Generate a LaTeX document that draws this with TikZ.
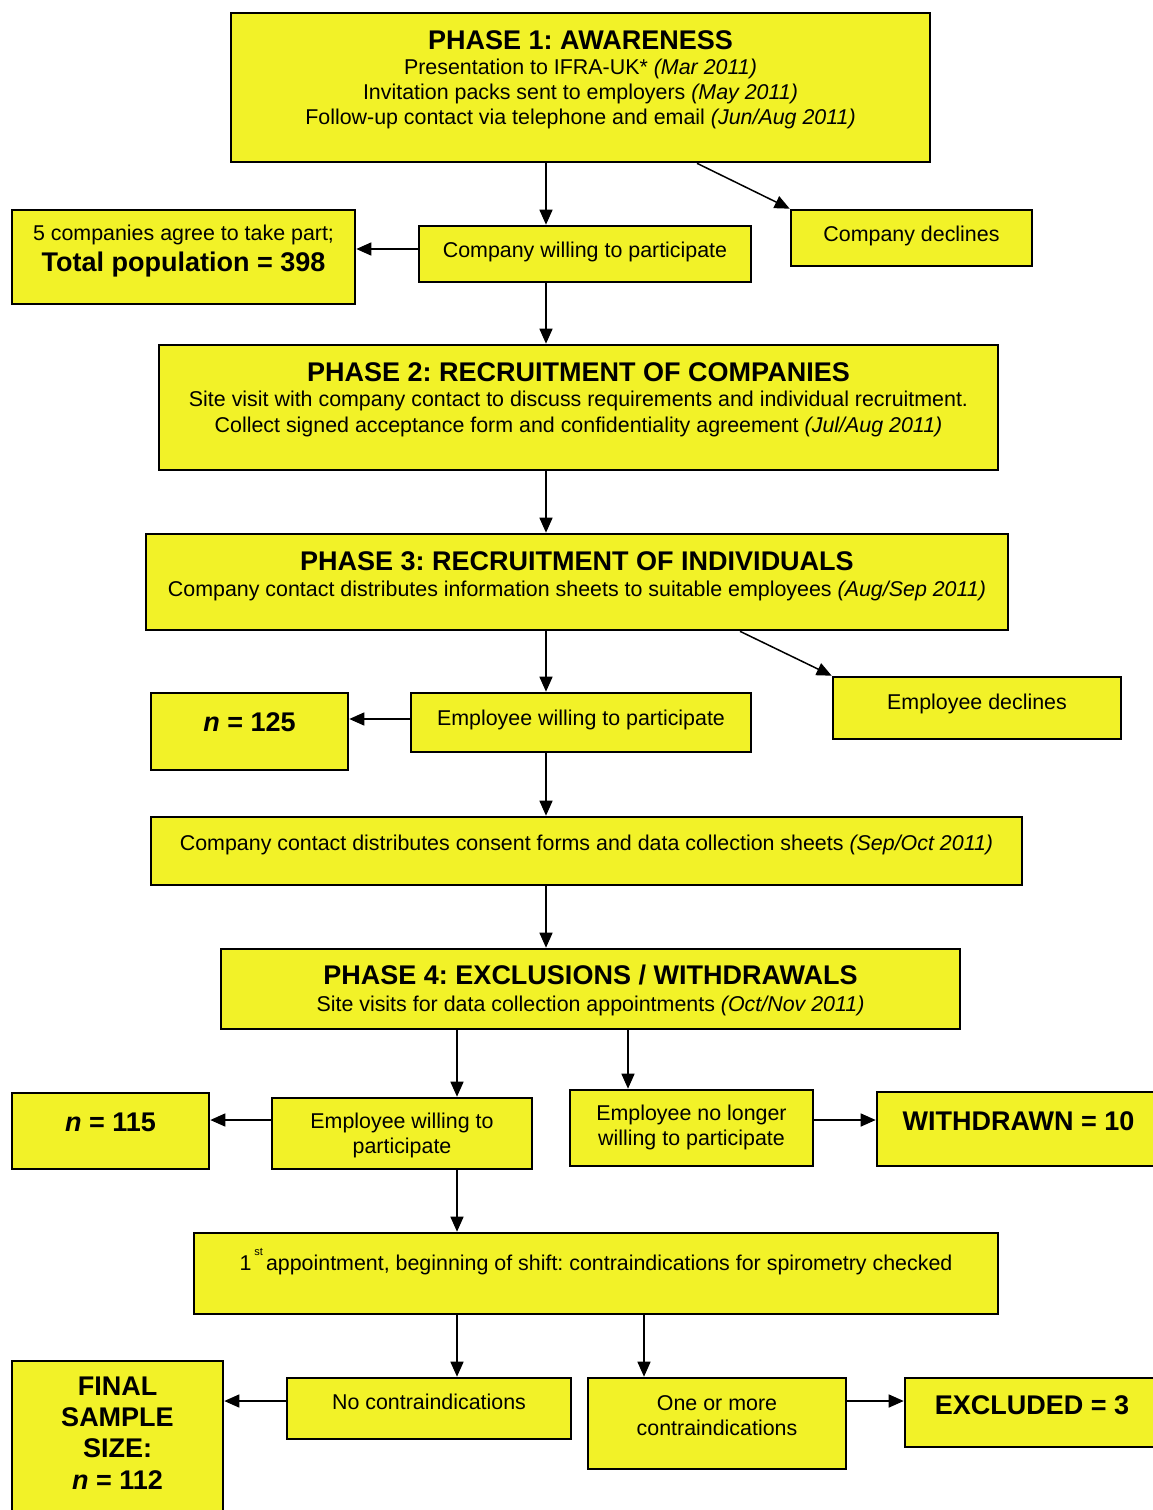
\documentclass[tikz,border=0pt]{standalone}
\usepackage{fontspec}
\setmainfont{Liberation Sans}
\usetikzlibrary{arrows.meta}
\definecolor{boxfill}{RGB}{242,242,40}
\frenchspacing
\begin{document}
\begin{tikzpicture}[x=1pt,y=-1pt,
  box/.style={draw=black,fill=boxfill,line width=2.6pt,inner sep=0pt,rectangle},
  ttl/.style={anchor=base,inner sep=0pt,font=\bfseries\fontsize{27}{31}\selectfont},
  txt/.style={anchor=base,inner sep=0pt,font=\fontsize{21.4}{25}\selectfont},
  arr/.style={line width=1.5pt,-{Triangle[length=15pt,width=13pt]}}]
\fill[white] (0,0) rectangle (1152,1510);
\useasboundingbox (0,0) rectangle (1152,1510);

% ---- boxes (centre x, centre y, width, height) ----
\node[box,minimum width=699pt,minimum height=149pt] (p1) at (580.5,87.5) {};
\node[box,minimum width=343pt,minimum height=94pt] (tp) at (183.5,257) {};
\node[box,minimum width=332pt,minimum height=56pt] (cw) at (585,254) {};
\node[box,minimum width=241pt,minimum height=56pt] (cd) at (911.5,238) {};
\node[box,minimum width=839pt,minimum height=125pt] (p2) at (578.5,407.5) {};
\node[box,minimum width=862pt,minimum height=96pt] (p3) at (577,582) {};
\node[box,minimum width=197pt,minimum height=77pt] (na) at (249.5,731.5) {};
\node[box,minimum width=340pt,minimum height=59pt] (ew) at (581,722.5) {};
\node[box,minimum width=288pt,minimum height=62pt] (ed) at (977,708) {};
\node[box,minimum width=871pt,minimum height=68pt] (cf) at (586.5,851) {};
\node[box,minimum width=739pt,minimum height=80pt] (p4) at (590.5,989) {};
\node[box,minimum width=197pt,minimum height=76pt] (nb) at (110.5,1131) {};
\node[box,minimum width=260pt,minimum height=71pt] (ew2) at (402,1133.5) {};
\node[box,minimum width=243pt,minimum height=76pt] (enl) at (691.5,1128) {};
\node[box,minimum width=283pt,minimum height=74pt] (wd) at (1018.5,1129) {};
\node[box,minimum width=804pt,minimum height=81pt] (ap) at (596,1273.5) {};
\node[box,minimum width=211pt,minimum height=170pt] (fs) at (117.5,1446) {};
\node[box,minimum width=284pt,minimum height=61pt] (nc) at (429,1408.5) {};
\node[box,minimum width=258pt,minimum height=91pt] (om) at (717,1423.5) {};
\node[box,minimum width=254pt,minimum height=69pt] (ex) at (1032,1412.5) {};

% ---- texts ----
\node[ttl] (p1a) at (580.5,49) {PHASE 1: AWARENESS};
\node[txt] (p1b) at (580.5,74) {Presentation to IFRA-UK* \textit{(Mar 2011)}};
\node[txt] (p1c) at (580.5,99) {Invitation packs sent to employers \textit{(May 2011)}};
\node[txt] (p1d) at (580.5,124) {Follow-up contact via telephone and email \textit{(Jun/Aug 2011)}};

\node[txt] (tpa) at (183.5,240) {5 companies agree to take part;};
\node[ttl] (tpb) at (183.5,271) {Total population = 398};

\node[txt] (cwt) at (585,257) {Company willing to participate};
\node[txt] (cdt) at (911.5,241) {Company declines};

\node[ttl] (p2a) at (578.5,381) {PHASE 2: RECRUITMENT OF COMPANIES};
\node[txt] (p2b) at (578.5,406) {Site visit with company contact to discuss requirements and individual recruitment.};
\node[txt] (p2c) at (578.5,432) {Collect signed acceptance form and confidentiality agreement \textit{(Jul/Aug 2011)}};

\node[ttl] (p3a) at (577,570) {PHASE 3: RECRUITMENT OF INDIVIDUALS};
\node[txt] (p3b) at (577,596) {Company contact distributes information sheets to suitable employees \textit{(Aug/Sep 2011)}};

\node[ttl] (nat) at (249.5,731) {\textit{n} = 125};
\node[txt] (ewt) at (581,725) {Employee willing to participate};
\node[txt] (edt) at (977,709) {Employee declines};

\node[txt] (cft) at (586.5,850) {Company contact distributes consent forms and data collection sheets \textit{(Sep/Oct 2011)}};

\node[ttl] (p4a) at (590.5,984) {PHASE 4: EXCLUSIONS / WITHDRAWALS};
\node[txt] (p4b) at (590.5,1011) {Site visits for data collection appointments \textit{(Oct/Nov 2011)}};

\node[ttl] (nbt) at (110.5,1131) {\textit{n} = 115};
\node[txt] (ew2a) at (402,1128) {Employee willing to};
\node[txt] (ew2b) at (402,1153) {participate};
\node[txt] (enla) at (691.5,1120) {Employee no longer};
\node[txt] (enlb) at (691.5,1145) {willing to participate};
\node[ttl] (wdt) at (1018.5,1130) {WITHDRAWN = 10};

\node[txt] (apt) at (596,1270) {1\hspace{3pt}\raisebox{15pt}{\fontsize{11}{12}\selectfont st}\hspace{3pt}appointment, beginning of shift: contraindications for spirometry checked};

\node[ttl] (fsa) at (117.5,1395) {FINAL};
\node[ttl] (fsb) at (117.5,1426) {SAMPLE};
\node[ttl] (fsc) at (117.5,1457) {SIZE:};
\node[ttl] (fsd) at (117.5,1489) {\textit{n} = 112};
\node[txt] (nct) at (429,1409) {No contraindications};
\node[txt] (oma) at (717,1410) {One or more};
\node[txt] (omb) at (717,1435) {contraindications};
\node[ttl] (ext) at (1032,1414) {EXCLUDED = 3};

% ---- guide lines for the connectors ----
\coordinate (spine) at (546,0);
\coordinate (dA) at (697,0);
\coordinate (dB) at (740,0);
\coordinate (sL) at (457,0);
\coordinate (sR) at (628,0);
\coordinate (tR) at (644,0);
\coordinate (rA) at (0,249);
\coordinate (rB) at (0,719);
\coordinate (rC) at (0,1120);
\coordinate (rD) at (0,1401);

% ---- connectors ----
\draw[arr] (p1.south -| spine) -- (cw.north -| spine);
\draw[arr] (p1.south -| dA) -- (cd.north west);
\draw[arr] (cw.west |- rA) -- (tp.east |- rA);
\draw[arr] (cw.south -| spine) -- (p2.north -| spine);
\draw[arr] (p2.south -| spine) -- (p3.north -| spine);
\draw[arr] (p3.south -| spine) -- (ew.north -| spine);
\draw[arr] (p3.south -| dB) -- (ed.north west);
\draw[arr] (ew.west |- rB) -- (na.east |- rB);
\draw[arr] (ew.south -| spine) -- (cf.north -| spine);
\draw[arr] (cf.south -| spine) -- (p4.north -| spine);
\draw[arr] (p4.south -| sL) -- (ew2.north -| sL);
\draw[arr] (p4.south -| sR) -- (enl.north -| sR);
\draw[arr] (ew2.west |- rC) -- (nb.east |- rC);
\draw[arr] (enl.east |- rC) -- (wd.west |- rC);
\draw[arr] (ew2.south -| sL) -- (ap.north -| sL);
\draw[arr] (ap.south -| sL) -- (nc.north -| sL);
\draw[arr] (ap.south -| tR) -- (om.north -| tR);
\draw[arr] (nc.west |- rD) -- (fs.east |- rD);
\draw[arr] (om.east |- rD) -- (ex.west |- rD);
\end{tikzpicture}
\end{document}
